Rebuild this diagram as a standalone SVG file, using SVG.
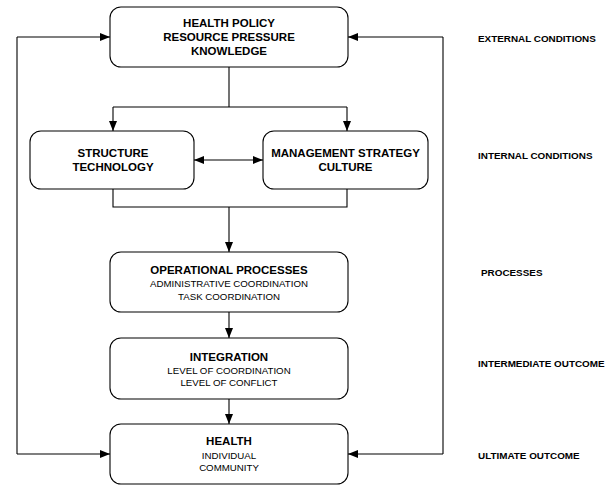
<svg xmlns="http://www.w3.org/2000/svg" width="614" height="485" viewBox="0 0 614 485">
<style>
.box{fill:#fff;stroke:#000;stroke-width:1.1}
.ln{fill:none;stroke:#000;stroke-width:1.1}
text{font-family:"Liberation Sans",Arial,sans-serif;text-anchor:middle;fill:#000}
.b{font-weight:bold;font-size:11.5px}
.r{font-size:9.7px}
.lab{font-weight:bold;font-size:9.9px;text-anchor:start}
</style>
<defs>
<marker id="ah" markerUnits="userSpaceOnUse" markerWidth="10" markerHeight="8" viewBox="0 0 10 8" refX="10" refY="4" orient="auto-start-reverse">
<path d="M0,0 L10,4 L0,8 z" fill="#000"/>
</marker>
</defs>
<g id="connectors">
<path class="ln" d="M17,454 V37"/>
<path class="ln" d="M17,37 H110" marker-end="url(#ah)"/>
<path class="ln" d="M17,454 H110" marker-end="url(#ah)"/>
<path class="ln" d="M443,454 V37"/>
<path class="ln" d="M443,37 H348" marker-end="url(#ah)"/>
<path class="ln" d="M443,454 H348" marker-end="url(#ah)"/>
<path class="ln" d="M229,67 V107 M113,107 H347"/>
<path class="ln" d="M113,107 V131" marker-end="url(#ah)"/>
<path class="ln" d="M347,107 V131" marker-end="url(#ah)"/>
<path class="ln" d="M194,160 H263" marker-start="url(#ah)" marker-end="url(#ah)"/>
<path class="ln" d="M113,189 V207 H347 V189"/>
<path class="ln" d="M229,207 V252" marker-end="url(#ah)"/>
<path class="ln" d="M229,312 V338" marker-end="url(#ah)"/>
<path class="ln" d="M229,399 V424" marker-end="url(#ah)"/>
</g>
<g id="external">
<rect class="box" x="110" y="7" width="238" height="60" rx="11"/>
<text class="b" x="229" y="27">HEALTH POLICY</text>
<text class="b" x="229" y="41">RESOURCE PRESSURE</text>
<text class="b" x="229" y="55">KNOWLEDGE</text>
</g>
<g id="structure">
<rect class="box" x="30" y="131" width="164" height="58" rx="11"/>
<text class="b" x="113" y="157">STRUCTURE</text>
<text class="b" x="113" y="171">TECHNOLOGY</text>
</g>
<g id="management">
<rect class="box" x="263" y="131" width="165" height="58" rx="11"/>
<text class="b" x="345.5" y="157">MANAGEMENT STRATEGY</text>
<text class="b" x="345.5" y="171">CULTURE</text>
</g>
<g id="operational">
<rect class="box" x="110" y="252" width="238" height="60" rx="11"/>
<text class="b" x="229" y="274">OPERATIONAL PROCESSES</text>
<text class="r" x="229" y="286.5">ADMINISTRATIVE COORDINATION</text>
<text class="r" x="229" y="299.5">TASK COORDINATION</text>
</g>
<g id="integration">
<rect class="box" x="110" y="338" width="238" height="61" rx="11"/>
<text class="b" x="229" y="361">INTEGRATION</text>
<text class="r" x="229" y="374">LEVEL OF COORDINATION</text>
<text class="r" x="229" y="386">LEVEL OF CONFLICT</text>
</g>
<g id="health">
<rect class="box" x="110" y="424" width="238" height="60" rx="11"/>
<text class="b" x="229" y="445">HEALTH</text>
<text class="r" x="229" y="459">INDIVIDUAL</text>
<text class="r" x="229" y="471">COMMUNITY</text>
</g>
<g id="labels">
<text class="lab" x="478" y="41.5">EXTERNAL CONDITIONS</text>
<text class="lab" x="478" y="158.5">INTERNAL CONDITIONS</text>
<text class="lab" x="481" y="275.5">PROCESSES</text>
<text class="lab" x="478" y="366.5">INTERMEDIATE OUTCOME</text>
<text class="lab" x="478" y="458.5">ULTIMATE OUTCOME</text>
</g>
</svg>
